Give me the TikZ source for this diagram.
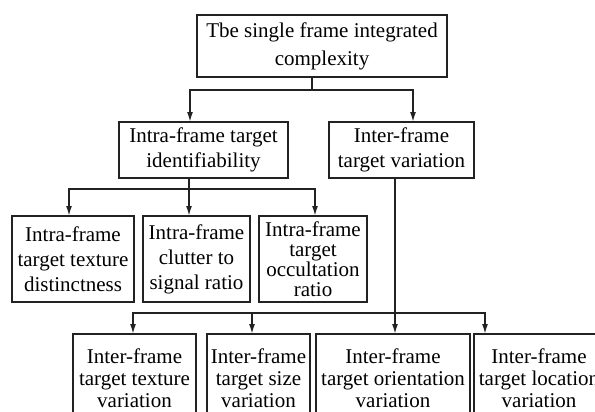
\documentclass[tikz,border=0pt]{standalone}
\usepackage{fontspec}
\setmainfont{Liberation Serif}
\usepackage{xcolor}
\definecolor{linegray}{HTML}{222222}
\usetikzlibrary{positioning,arrows.meta}

\begin{document}
\begin{tikzpicture}[block/.style={
      rectangle, inner sep = 0pt, outer sep = 0pt, line width = 0.9pt,
      draw = linegray, fill = white, align = center,
      font = \fontsize{10.5}{12.5}\selectfont},
    link/.style={draw = linegray, line width = 0.8pt, -{Latex[length=5pt,width=3pt]}}]
  \clip (0,0) rectangle (297.5pt,-206pt);
  % top level
  \node (top) [block, minimum width = 125pt, minimum height = 31pt, anchor = north west,
      font = \fontsize{10.5}{14}\selectfont] at (98.5pt,-7.5pt) {Tbe single frame integrated\\complexity};
  % second level
  \node (intra) [block, minimum width = 84.5pt, minimum height = 28pt, anchor = north west] at (59.5pt,-61pt) {Intra-frame target\\identifiability};
  \node (inter) [block, minimum width = 72.5pt, minimum height = 28pt, right = 20.5pt of intra] {Inter-frame\\target variation};
  % intra-frame leaves
  \node (intraA) [block, minimum width = 61pt, minimum height = 43pt, anchor = north west] at (6pt,-108pt) {Intra-frame\\target texture\\distinctness};
  \node (intraB) [block, minimum width = 53.5pt, minimum height = 43pt, right = 4.5pt of intraA] {Intra-frame\\clutter to\\signal ratio};
  \node (intraC) [block, minimum width = 54pt, minimum height = 43pt, right = 4.5pt of intraB,
      font = \fontsize{10.5}{10}\selectfont] {Intra-frame\\target\\occultation\\ratio};
  % inter-frame leaves
  \node (interA) [block, minimum width = 61.5pt, minimum height = 44pt, anchor = north west,
      font = \fontsize{10.5}{11}\selectfont] at (36.5pt,-167pt) {Inter-frame\\target texture\\variation};
  \node (interB) [block, minimum width = 51.5pt, minimum height = 44pt, right = 5.5pt of interA,
      font = \fontsize{10.5}{11}\selectfont] {Inter-frame\\target size\\variation};
  \node (interC) [block, minimum width = 77pt, minimum height = 44pt, right = 3pt of interB,
      font = \fontsize{10.5}{11}\selectfont] {Inter-frame\\target orientation\\variation};
  \node (interD) [block, minimum width = 65pt, minimum height = 44pt, right = 2pt of interC,
      font = \fontsize{10.5}{11}\selectfont] {Inter-frame\\target location\\variation};
  % connectors
  \draw [link] ([xshift=-5pt]top.south) -- ++(0,-6.5pt) -| ([xshift=-6.75pt]intra.north);
  \draw [link] ([xshift=-5pt]top.south) -- ++(0,-6.5pt) -| ([xshift=5.75pt]inter.north);
  \draw [link] ([xshift=-7.25pt]intra.south) -- ++(0,-5.5pt) -| ([xshift=-2pt]intraA.north);
  \draw [link] ([xshift=-7.25pt]intra.south) -- ++(0,-5.5pt) -| ([xshift=-3.75pt]intraB.north);
  \draw [link] ([xshift=-7.25pt]intra.south) -- ++(0,-5.5pt) -| ([xshift=1pt]intraC.north);
  \draw [link] ([xshift=-3.25pt]inter.south) -- ++(0,-67.5pt) -| ([xshift=-0.75pt]interA.north);
  \draw [link] ([xshift=-3.25pt]inter.south) -- ++(0,-67.5pt) -| ([xshift=-3.25pt]interB.north);
  \draw [link] ([xshift=-3.25pt]inter.south) -- ([xshift=1pt]interC.north);
  \draw [link] ([xshift=-3.25pt]inter.south) -- ++(0,-67.5pt) -| ([xshift=-27pt]interD.north);
\end{tikzpicture}
\end{document}
